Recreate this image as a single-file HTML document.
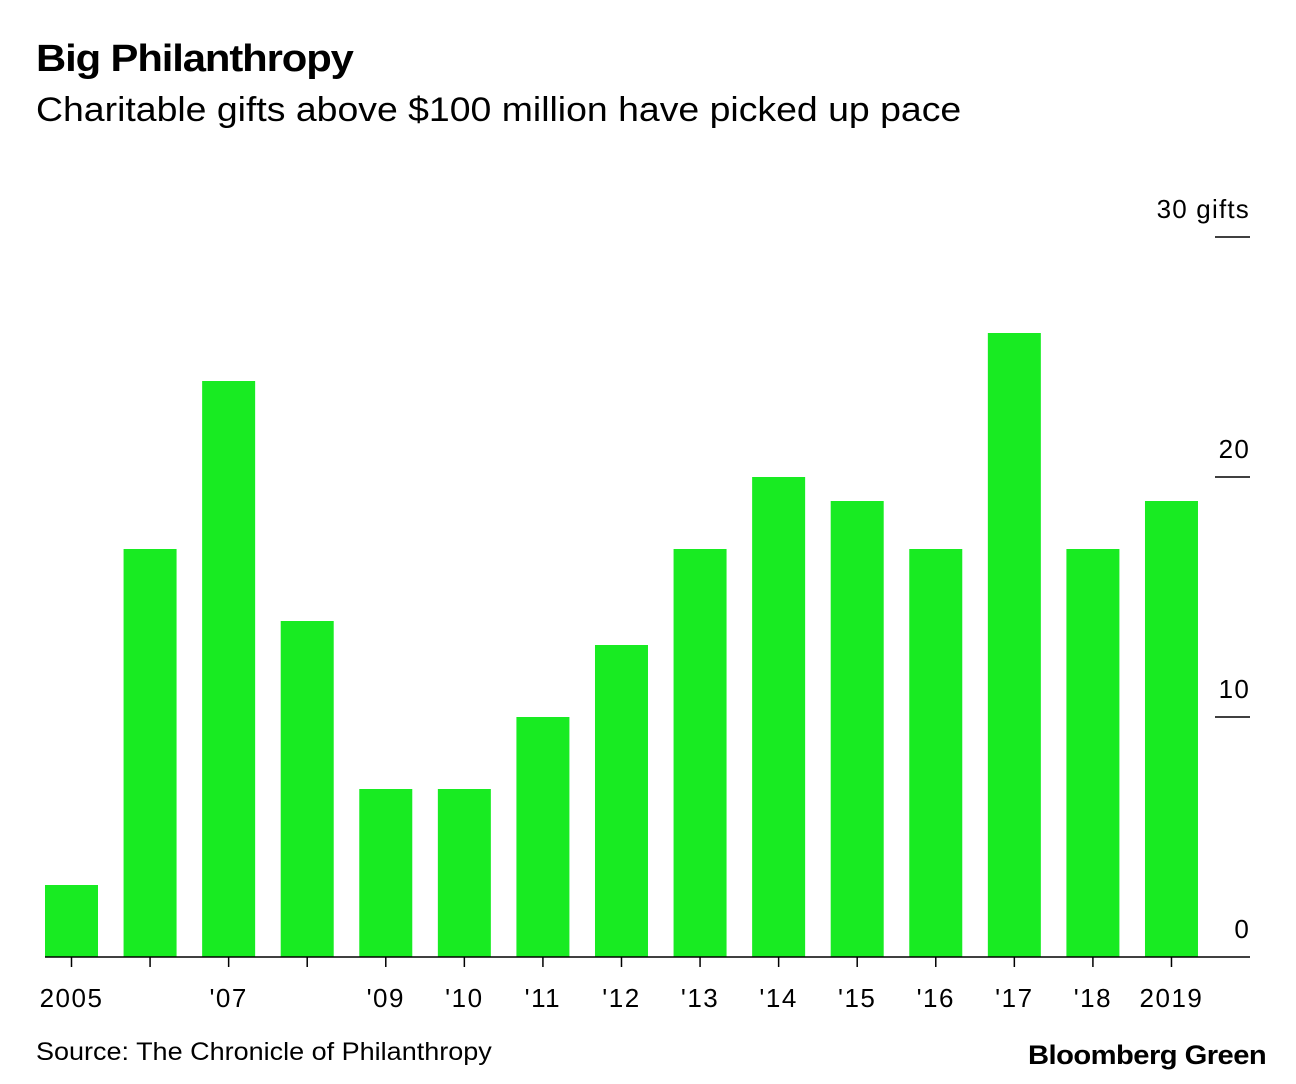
<!DOCTYPE html>
<html><head><meta charset="utf-8">
<style>
body{margin:0;width:1296px;height:1084px;background:#fff;font-family:"Liberation Sans",Arial,sans-serif;color:#000;position:relative;overflow:hidden}
.t{position:absolute;white-space:nowrap;transform-origin:0 0}
</style></head><body>
<div class="t" style="left:36px;top:38px;font-size:38px;font-weight:bold;letter-spacing:-1px;transform:scaleX(1.1)">Big Philanthropy</div>
<div class="t" style="left:36px;top:91px;font-size:34px;transform:scaleX(1.1)">Charitable gifts above $100 million have picked up pace</div>
<svg id="chart" width="1296" height="1084" style="position:absolute;left:0;top:0"></svg>
<div class="t" style="left:36px;top:1038px;font-size:25px;transform:scaleX(1.08)">Source: The Chronicle of Philanthropy</div>
<div class="t" style="left:1028px;top:1040px;font-size:27px;font-weight:bold;letter-spacing:-0.5px;transform:scaleX(1.08)">Bloomberg Green</div>
<script>
const years=[2005,2006,2007,2008,2009,2010,2011,2012,2013,2014,2015,2016,2017,2018,2019];
const gifts=[3,17,24,14,7,7,10,13,17,20,19,17,26,17,19];
const xLabels=["2005","","'07","","'09","'10","'11","'12","'13","'14","'15","'16","'17","'18","2019"];
const yTicks=[0,10,20,30];
const yTickLabels=["0","10","20","30 gifts"];
const svg=document.getElementById('chart');
const NS='http://www.w3.org/2000/svg';
const y0=957,unit=24,x0=45,step=78.57,bw=53;
const y=v=>y0-v*unit;
const x=i=>x0+i*step;
function mk(t,a){const e=document.createElementNS(NS,t);for(const k in a)e.setAttribute(k,a[k]);svg.appendChild(e);return e;}
gifts.forEach((v,i)=>{
 const r=mk('rect',{x:x(i),y:y(v),width:bw,height:v*unit,fill:'#18eb22'});
 
 
 const tk=mk('line',{x1:x(i)+bw/2,x2:x(i)+bw/2,y1:y0,y2:y0+10,stroke:'#000','stroke-width':1.5});
 
 
 if(xLabels[i]){
  const t=mk('text',{x:x(i)+bw/2,y:y0+50,'text-anchor':'middle','font-size':26,'letter-spacing':1.5,'font-family':'Liberation Sans, Arial, sans-serif'});
  t.textContent=xLabels[i];
  
  
 }
});
yTicks.forEach((v,i)=>{
 if(v>0){const l=mk('line',{x1:1215,x2:1250,y1:y(v),y2:y(v),stroke:'#000','stroke-width':1.5});
 
 }
 const t=mk('text',{x:1250,y:y(v)-19,'text-anchor':'end','font-size':26,'letter-spacing':1.2,'font-family':'Liberation Sans, Arial, sans-serif'});
 t.textContent=yTickLabels[i];
 
 
});
const ax=mk('line',{x1:45,x2:1250,y1:y0,y2:y0,stroke:'#000','stroke-width':1.5});


</script>
</body></html>
